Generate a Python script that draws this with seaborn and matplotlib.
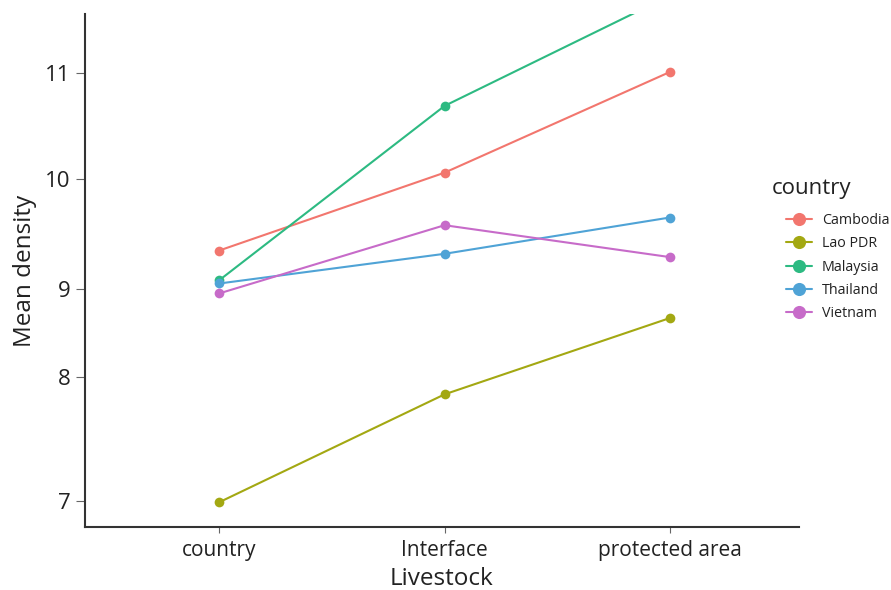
import numpy as np
import pandas as pd
import matplotlib
matplotlib.use("Agg")
import matplotlib.pyplot as plt
import seaborn as sns

# values
stages = ["country", "Interface", "protected area"]
countries = ["Cambodia", "Lao PDR", "Malaysia", "Thailand", "Vietnam"]
cambodia = [9.35, 10.06, 11.01]
lao_pdr = [6.99, 7.86, 8.67]
malaysia = [9.08, 10.69, 11.73]
thailand = [9.05, 9.32, 9.65]
vietnam = [8.95, 9.58, 9.29]
colors = ["#F2766E", "#A3A812", "#2DBA82", "#4FA3D6", "#C76BC9"]

# the reference y axis has uneven spacing between its ticks
scale_values = [0, 7, 8, 9, 10, 11, 20]
scale_pos = [-1369, -501, -377, -289, -179, -73, 881]


def fwd(v):
    return np.interp(v, scale_values, scale_pos)


def inv(p):
    return np.interp(p, scale_pos, scale_values)


series = [cambodia, lao_pdr, malaysia, thailand, vietnam]
df = pd.DataFrame({
    "Livestock": stages * len(countries),
    "country": [c for c in countries for _ in stages],
    "Mean density": [v for s in series for v in s],
})

sns.set_theme(style="ticks")
plt.rcParams["font.family"] = ["Open Sans", "DejaVu Sans"]

fig = plt.figure(figsize=(8.91, 5.9), dpi=100)
ax = fig.add_axes([85 / 891, 1 - 527 / 590, (799 - 85) / 891, (527 - 14) / 590])

sns.lineplot(data=df, x="Livestock", y="Mean density", hue="country",
             hue_order=countries, palette=colors, marker="o", markersize=7,
             markeredgewidth=0, linewidth=1.5, sort=False, ax=ax)

ax.set_yscale("function", functions=(fwd, inv))
ax.set_ylim(6.79, 11.557)
ax.set_yticks([7, 8, 9, 10, 11])
ax.set_yticklabels(["7", "8", "9", "10", "11"])
ax.minorticks_off()
ax.set_xlim(-0.596, 2.573)

for side in ["top", "right"]:
    ax.spines[side].set_visible(False)
for side in ["left", "bottom"]:
    ax.spines[side].set_linewidth(1.5)
    ax.spines[side].set_color("#333333")

ax.tick_params(axis="y", labelsize=16, length=6.5, width=0.8, color="#666666",
               pad=4, labelcolor="#222222")
ax.tick_params(axis="x", labelsize=15, length=4.5, width=0.8, color="#666666",
               pad=5, labelcolor="#222222")
ax.set_xlabel("Livestock", fontsize=17.5, color="#222222", labelpad=4)
ax.set_ylabel("Mean density", fontsize=17.5, color="#222222", labelpad=6)

handles, labels = ax.get_legend_handles_labels()
ax.get_legend().remove()
leg = fig.legend(handles, labels, loc="upper left",
                 bbox_to_anchor=(786 / 891, 1 - 213 / 590),
                 frameon=False, fontsize=10.3, markerscale=1.35,
                 handlelength=1.8, handletextpad=0.7, labelspacing=0.58,
                 borderpad=0, borderaxespad=0)
for t in leg.get_texts():
    t.set_color("#222222")
fig.text(772 / 891, 1 - 189 / 590, "country", fontsize=16, color="#222222",
         ha="left", va="center")

fig.savefig("out.png", dpi=100)
plt.close(fig)
